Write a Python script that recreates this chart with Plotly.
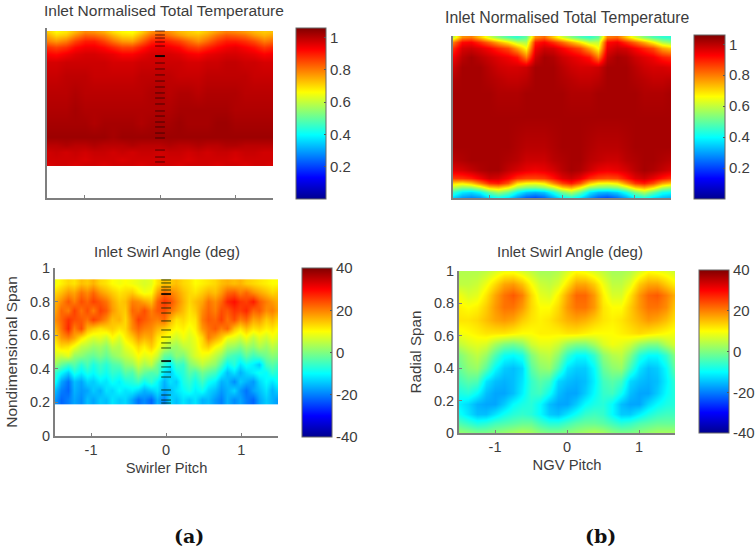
import plotly.graph_objects as go

W, H = 756, 552
JET = [[0, "#00008f"], [0.125, "#0000ff"], [0.375, "#00ffff"], [0.625, "#ffff00"], [0.875, "#ff0000"], [1, "#800000"]]
TEXT = "#3c3c3c"
AXIS = "#7f7f7f"
FONT = "Liberation Sans"

pitch_25 = [-1.5, -1.375, -1.25, -1.125, -1.0, -0.875, -0.75, -0.625, -0.5, -0.375, -0.25, -0.125, 0.0,
            0.125, 0.25, 0.375, 0.5, 0.625, 0.75, 0.875, 1.0, 1.125, 1.25, 1.375, 1.5]

# ---- (a) top: inlet normalised total temperature
temp_a_span = [0.2, 0.224, 0.27, 0.31, 0.36, 0.44, 0.52, 0.62, 0.72, 0.8, 0.85, 0.89, 0.925, 0.96, 0.975]
temp_a = [
    [.965, .975, .975, .965, .975, .975, .965, .975, .975, .975, .965, .975, .975, .975, .965, .975, .975, .975, .965, .975, .975, .965, .975, .975, .965],
    [.975, .975, .975, .975, .965, .975, .975, .975, .965, .975, .975, .975, .975, .975, .975, .965, .975, .975, .975, .975, .965, .975, .975, .975, .975],
    [.975, .985, .975, .985, .975, .985, .985, .975, .985, .975, .985, .985, .975, .985, .985, .975, .985, .975, .985, .985, .975, .985, .985, .975, .975],
    [1.0, 1.0, 1.01, 1.0, 1.0, 1.01, 1.0, 1.0, 1.0, 1.01, 1.0, 1.0, 1.0, 1.01, 1.0, 1.0, 1.01, 1.0, 1.0, 1.01, 1.01, 1.0, 1.0, 1.0, 1.0],
    [1.03, 1.03, 1.03, 1.03, 1.03, 1.03, 1.03, 1.02, 1.03, 1.03, 1.03, 1.03, 1.03, 1.03, 1.03, 1.03, 1.03, 1.03, 1.03, 1.03, 1.03, 1.03, 1.03, 1.03, 1.03],
    [1.02, 1.02, 1.02, 1.02, 1.02, 1.01, 1.02, 1.02, 1.02, 1.02, 1.01, 1.02, 1.02, 1.02, 1.03, 1.02, 1.02, 1.02, 1.03, 1.03, 1.02, 1.02, 1.02, 1.02, 1.02],
    [1.01, 1.01, 1.01, 1.02, 1.01, 1.01, 1.01, 1.01, 1.01, 1.01, 1.01, 1.01, 1.01, 1.01, 1.02, 1.02, 1.02, 1.02, 1.02, 1.02, 1.01, 1.01, 1.01, 1.01, 1.01],
    [1.0, 1.0, 1.0, 1.01, 1.0, 1.0, 1.0, 1.0, 1.0, 1.0, 1.0, 1.01, 1.01, 1.0, 1.01, 1.01, 1.0, 1.01, 1.01, 1.01, 1.01, 1.0, 1.0, 1.0, 1.0],
    [.985, .985, .995, .995, .995, .985, .985, .985, .985, .985, .995, .995, .995, .995, .985, .985, .985, .995, .995, .995, .995, .995, .985, .985, .985],
    [.97, .97, .98, .98, .98, .98, .98, .97, .97, .97, .98, .98, .98, .98, .98, .97, .97, .98, .98, .99, .99, .98, .98, .97, .97],
    [.93, .92, .94, .96, .97, .97, .96, .95, .93, .93, .95, .97, .97, .97, .96, .94, .93, .95, .96, .97, .97, .96, .95, .93, .94],
    [.88, .86, .88, .92, .94, .94, .92, .89, .86, .86, .9, .94, .95, .94, .92, .88, .86, .89, .92, .94, .95, .93, .91, .87, .89],
    [.8, .77, .8, .86, .9, .9, .86, .81, .77, .76, .82, .89, .91, .89, .86, .82, .78, .82, .87, .9, .9, .88, .85, .8, .82],
    [.75, .7, .72, .78, .83, .82, .79, .74, .7, .69, .75, .82, .84, .81, .77, .74, .73, .76, .81, .84, .83, .81, .77, .74, .76],
    [.72, .67, .69, .74, .79, .78, .75, .7, .67, .66, .71, .78, .81, .78, .74, .72, .7, .73, .77, .8, .79, .77, .74, .72, .73],
]
dash_temp = [.982, .959, .941, .918, .894, .794, .759, .724, .688, .653, .618, .588, .553, .512, .482, .447, .418, .382, .353, .282, .241, .212]
dash_temp_dark = [.835]

# ---- (b) top: inlet normalised total temperature
temp_b_span = [.004, .039, .066, .091, .121, .173, .235, .317, .5, .646, .728, .81, .872, .924, .965, .996]
temp_b = [
    [.36, .3, .28, .3, .38, .42, .38, .3, .24, .22, .25, .32, .4, .44, .38, .3, .24, .22, .26, .32, .4, .44, .38, .34, .32],
    [.45, .38, .36, .4, .5, .56, .5, .4, .34, .32, .34, .42, .52, .58, .5, .38, .33, .32, .35, .42, .52, .58, .5, .42, .4],
    [.6, .55, .56, .62, .72, .74, .68, .58, .54, .53, .56, .62, .72, .76, .68, .57, .54, .53, .55, .62, .72, .76, .7, .6, .56],
    [.7, .68, .72, .8, .88, .9, .84, .7, .66, .65, .68, .78, .86, .9, .84, .72, .66, .65, .68, .78, .87, .9, .85, .76, .72],
    [.87, .88, .9, .94, .98, .97, .93, .88, .86, .86, .87, .91, .96, .98, .95, .89, .86, .85, .86, .91, .96, .98, .95, .91, .88],
    [.96, .97, .99, 1.01, 1.02, 1.02, .99, .97, .95, .94, .95, .97, 1.0, 1.02, 1.01, .98, .95, .94, .95, .97, 1.0, 1.02, 1.01, .99, .97],
    [1.0, 1.01, 1.02, 1.02, 1.02, 1.02, 1.01, 1.0, .98, .98, .98, 1.0, 1.01, 1.02, 1.02, 1.0, .99, .98, .98, 1.0, 1.01, 1.02, 1.02, 1.01, 1.0],
    [1.02, 1.02, 1.02, 1.02, 1.02, 1.02, 1.02, 1.01, 1.0, 1.0, 1.0, 1.01, 1.02, 1.02, 1.02, 1.01, 1.0, 1.0, 1.0, 1.01, 1.02, 1.02, 1.02, 1.02, 1.02],
    [1.02, 1.02, 1.02, 1.02, 1.02, 1.02, 1.02, 1.02, 1.02, 1.02, 1.02, 1.02, 1.02, 1.02, 1.02, 1.02, 1.02, 1.02, 1.02, 1.02, 1.02, 1.02, 1.02, 1.02, 1.02],
    [1.02, 1.02, 1.02, 1.02, 1.02, 1.01, 1.01, 1.01, 1.02, 1.02, 1.02, 1.02, 1.02, 1.01, 1.01, 1.01, 1.02, 1.02, 1.02, 1.02, 1.02, 1.01, 1.01, 1.01, 1.02],
    [1.01, 1.02, 1.02, 1.02, 1.01, 1.0, .99, .99, 1.0, 1.02, 1.02, 1.02, 1.01, 1.0, .99, .99, 1.0, 1.02, 1.02, 1.02, 1.01, 1.0, .99, .99, 1.0],
    [.98, 1.02, 1.02, 1.02, 1.0, .98, .97, .97, .98, 1.02, 1.02, 1.02, 1.0, .98, .97, .97, .98, 1.02, 1.02, 1.02, 1.0, .98, .97, .97, .96],
    [.94, 1.0, 1.02, 1.0, .98, .96, .94, .91, .8, .98, 1.02, 1.01, .98, .96, .94, .91, .8, .99, 1.02, 1.01, .98, .96, .94, .9, .88],
    [.88, .97, .98, .96, .93, .89, .85, .76, .66, .94, .98, .97, .93, .89, .85, .76, .66, .95, .98, .97, .93, .89, .85, .76, .72],
    [.8, .92, .93, .88, .82, .75, .68, .6, .58, .9, .93, .88, .82, .75, .68, .6, .6, .92, .94, .88, .82, .75, .67, .58, .54],
    [.6, .78, .8, .72, .62, .54, .48, .45, .5, .78, .82, .72, .62, .54, .48, .45, .5, .8, .82, .72, .62, .54, .48, .45, .44],
]

# ---- (a) bottom: inlet swirl angle
pitch_36 = [-1.48, -1.395, -1.31, -1.225, -1.14, -1.055, -0.97, -0.885, -0.8, -0.715, -0.63, -0.545, -0.46, -0.375, -0.29, -0.205,
            -0.12, -0.035, 0.05, 0.135, 0.22, 0.305, 0.39, 0.475, 0.56, 0.645, 0.73, 0.815, 0.9, 0.985, 1.07, 1.155, 1.24, 1.325, 1.41, 1.495]
swirl_a_span = [.217, .27, .323, .376, .429, .482, .535, .588, .641, .694, .747, .8, .853, .906]
swirl_a = [
    [-18, -22, -20, -17, -19, -15, -17, -14, -15, -12, -14, -13, -17, -21, -19, -22, -16, -20, -13, -15, -12, -14, -12, -16, -15, -18, -20, -16, -19, -17, -20, -22, -17, -14, -16, -18],
    [-15, -20, -22, -16, -18, -17, -14, -16, -12, -13, -10, -12, -11, -13, -16, -14, -12, -17, -15, -12, -10, -8, -11, -9, -13, -15, -18, -16, -13, -18, -21, -17, -15, -12, -16, -13],
    [-9, -17, -21, -15, -17, -13, -14, -11, -12, -9, -11, -8, -7, -5, -9, -6, -10, -16, -12, -14, -8, -6, -9, -5, -9, -11, -16, -15, -19, -14, -16, -18, -13, -10, -12, -9],
    [-6, -10, -14, -8, -11, -8, -10, -7, -9, -6, -7, -3, -4, 1, -2, -4, -3, -12, -14, -9, -7, -3, -5, -1, -3, -5, -10, -15, -12, -16, -13, -11, -9, -10, -6, -8],
    [2, -2, -5, -3, -7, -4, -8, -5, -7, -4, -3, 1, 2, 6, 3, 5, -1, -7, -11, -5, -6, 0, 2, 5, 3, 1, -4, -10, -7, -12, -9, -11, -14, -5, -3, -5],
    [7, 6, 8, 2, 1, -1, -2, 0, -2, 1, 3, 5, 7, 10, 8, 9, 6, -2, -3, 1, 0, 4, 7, 9, 8, 5, 2, -3, -5, -6, -2, -5, -3, -1, 1, 0],
    [10, 13, 12, 9, 5, 4, 2, 3, 1, 5, 4, 8, 10, 13, 11, 14, 10, 6, 3, 2, 5, 6, 8, 12, 14, 10, 8, 3, 2, 0, 3, 1, 4, 2, 5, 3],
    [13, 18, 20, 17, 12, 9, 7, 8, 6, 10, 7, 11, 14, 18, 16, 17, 12, 10, 8, 6, 9, 7, 9, 13, 20, 17, 14, 9, 8, 6, 9, 5, 8, 6, 9, 7],
    [16, 21, 27, 20, 24, 16, 14, 12, 13, 14, 12, 13, 19, 22, 20, 19, 16, 14, 12, 10, 11, 9, 11, 18, 21, 23, 20, 22, 15, 12, 15, 12, 13, 11, 12, 10],
    [19, 22, 26, 24, 23, 21, 25, 22, 19, 15, 16, 13, 20, 25, 23, 21, 20, 22, 16, 12, 13, 11, 12, 20, 23, 22, 25, 21, 24, 20, 22, 17, 18, 14, 16, 13],
    [17, 22, 20, 25, 21, 24, 20, 25, 23, 18, 15, 14, 22, 21, 24, 20, 23, 24, 21, 18, 15, 12, 14, 19, 22, 20, 24, 23, 26, 25, 27, 22, 23, 19, 20, 17],
    [16, 19, 23, 20, 24, 22, 25, 23, 21, 17, 14, 15, 20, 19, 17, 15, 22, 26, 24, 20, 16, 13, 15, 17, 21, 19, 22, 27, 29, 26, 25, 28, 23, 20, 18, 16],
    [13, 15, 18, 17, 21, 19, 22, 18, 16, 14, 12, 13, 14, 11, 9, 10, 17, 22, 20, 18, 15, 13, 12, 14, 16, 15, 18, 22, 23, 20, 22, 19, 17, 15, 13, 14],
    [9, 11, 13, 12, 15, 14, 16, 13, 12, 10, 9, 10, 9, 8, 7, 8, 12, 15, 14, 15, 13, 12, 10, 11, 12, 13, 15, 16, 15, 16, 14, 13, 12, 11, 10, 10],
]
dash_swirl = [.929, .911, .887, .869, .792, .762, .732, .685, .631, .589, .554, .524, .411, .381, .351, .274, .244, .214, .196]
dash_swirl_dark = [.845, .446]

# ---- (b) bottom: inlet swirl angle
swirl_b_span = [0, .06, .12, .18, .25, .32, .4, .48, .55, .62, .7, .78, .85, .92, 1.0]
swirl_b = [
    [2, 1, 0, 0, 1, 2, 3, 4, 3, 1, 0, 0, 1, 2, 3, 4, 3, 1, 0, 0, 1, 2, 3, 3, 3],
    [-4, -6, -8, -7, -5, -4, -3, -2, -2, -5, -7, -7, -5, -3, -2, -2, -3, -5, -7, -6, -4, -3, -2, -2, -2],
    [-9, -12, -15, -15, -12, -9, -7, -6, -7, -10, -14, -15, -12, -9, -6, -5, -6, -10, -14, -14, -11, -8, -6, -5, -5],
    [-11, -13, -16, -17, -17, -14, -10, -8, -7, -10, -15, -17, -17, -14, -10, -8, -7, -10, -15, -17, -17, -13, -10, -8, -7],
    [-8, -7, -10, -15, -17, -17, -15, -11, -6, -5, -9, -15, -17, -17, -14, -10, -6, -5, -9, -15, -17, -17, -14, -10, -7],
    [-5, -3, -4, -12, -15, -16, -15, -12, -6, -3, -5, -13, -15, -16, -15, -11, -5, -3, -5, -13, -15, -16, -15, -11, -6],
    [-2, 1, 2, -3, -10, -14, -15, -13, -3, 1, 2, -4, -12, -14, -14, -10, -2, 1, 2, -5, -12, -15, -14, -10, -2],
    [0, 3, 5, 2, -4, -9, -10, -8, 0, 4, 5, 1, -6, -10, -10, -6, 1, 4, 5, 0, -7, -10, -10, -6, 1],
    [5, 7, 8, 7, 3, 0, -1, 1, 6, 8, 8, 6, 2, 0, 0, 3, 7, 9, 8, 6, 2, 0, 0, 4, 7],
    [9, 10, 11, 12, 12, 12, 11, 10, 10, 11, 11, 11, 12, 12, 11, 10, 10, 10, 11, 12, 13, 12, 11, 10, 9],
    [12, 12, 13, 15, 17, 18, 17, 14, 12, 11, 12, 14, 16, 17, 16, 14, 12, 11, 12, 14, 16, 18, 17, 15, 12],
    [11, 10, 11, 14, 18, 21, 21, 18, 13, 10, 10, 13, 18, 21, 21, 18, 12, 10, 10, 14, 18, 21, 21, 19, 14],
    [9, 7, 8, 12, 17, 21, 23, 20, 13, 8, 7, 11, 17, 22, 22, 18, 11, 7, 7, 12, 18, 22, 23, 20, 16],
    [5, 5, 6, 9, 13, 17, 18, 15, 10, 6, 5, 7, 12, 17, 17, 14, 9, 5, 5, 8, 14, 17, 17, 14, 11],
    [4, 4, 4, 5, 7, 9, 9, 7, 5, 3, 3, 4, 7, 10, 9, 7, 5, 3, 3, 4, 7, 10, 9, 8, 6],
]

temp_ticks = [0.2, 0.4, 0.6, 0.8, 1]
temp_labels = ["0.2", "0.4", "0.6", "0.8", "1"]
swirl_ticks = [-40, -20, 0, 20, 40]
swirl_labels = ["-40", "-20", "0", "20", "40"]
span_ticks = [0, 0.2, 0.4, 0.6, 0.8, 1]
span_labels = ["0", "0.2", "0.4", "0.6", "0.8", "1"]
pitch_ticks = [-1, 0, 1]
pitch_labels = ["-1", "0", "1"]

title_temp = "Inlet Normalised Total Temperature"
title_swirl = "Inlet Swirl Angle (deg)"


def fx(px):
    return px / W


def fy(py):
    return 1 - py / H


panels = [
    dict(ax="", box=(47, 273, 28, 198), cb=(296, 326, 28, 199), x=pitch_25, y=temp_a_span, z=temp_a, zr=(0.0, 1.06),
         ct=temp_ticks, cl=temp_labels, xr=(-1.5, 1.5), yr=(0, 1)),
    dict(ax="2", box=(453, 671, 36, 198), cb=(694, 725, 35, 199), x=pitch_25, y=temp_b_span, z=temp_b, zr=(0.0, 1.06),
         ct=temp_ticks, cl=temp_labels, xr=(-1.5, 1.5), yr=(0, 1)),
    dict(ax="3", box=(55, 278, 268, 436), cb=(302, 332, 268, 437), x=pitch_36, y=swirl_a_span, z=swirl_a, zr=(-40, 40),
         ct=swirl_ticks, cl=swirl_labels, xr=(-1.48, 1.49), yr=(0, 1)),
    dict(ax="4", box=(459, 675, 271, 433), cb=(699, 729, 270, 433), x=pitch_25, y=swirl_b_span, z=swirl_b, zr=(-40, 40),
         ct=swirl_ticks, cl=swirl_labels, xr=(-1.5, 1.5), yr=(0, 1)),
]

fig = go.Figure()
layout_axes = {}
for p in panels:
    l, r, t, b = p["box"]
    cl_, cr_, ct_, cb_ = p["cb"]
    fig.add_trace(go.Heatmap(
        x=p["x"], y=p["y"], z=p["z"], zmin=p["zr"][0], zmax=p["zr"][1], colorscale=JET, zsmooth="best",
        xaxis="x" + p["ax"], yaxis="y" + p["ax"], hoverinfo="skip",
        colorbar=dict(
            x=fx(cl_), xanchor="left", xpad=0, ypad=0, y=fy(cb_), yanchor="bottom",
            len=(cb_ - ct_) / H, lenmode="fraction", thickness=cr_ - cl_, thicknessmode="pixels",
            tickmode="array", tickvals=p["ct"], ticktext=p["cl"], ticks="inside", ticklen=2, tickcolor="#555555",
            tickfont=dict(family=FONT, size=15, color=TEXT), outlinecolor="#666666", outlinewidth=1,
        ),
    ))
    bottom = p["ax"] in ("3", "4")
    layout_axes["xaxis" + p["ax"]] = dict(
        domain=[fx(l), fx(r)], range=list(p["xr"]), anchor="y" + p["ax"], showgrid=False, zeroline=False,
        showline=True, linecolor=AXIS, linewidth=2, ticks="inside", ticklen=3, tickcolor=AXIS,
        tickmode="array", tickvals=pitch_ticks, ticktext=pitch_labels, showticklabels=bottom,
        tickfont=dict(family=FONT, size=14.5, color=TEXT),
    )
    layout_axes["yaxis" + p["ax"]] = dict(
        domain=[fy(b), fy(t)], range=list(p["yr"]), anchor="x" + p["ax"], showgrid=False, zeroline=False,
        showline=True, linecolor=AXIS, linewidth=2, ticks="inside" if bottom else "", ticklen=3, tickcolor=AXIS,
        tickmode="array", tickvals=span_ticks, ticktext=span_labels, showticklabels=bottom,
        tickfont=dict(family=FONT, size=14.5, color=TEXT),
    )

layout_axes["xaxis3"]["title"] = dict(text="Swirler Pitch", font=dict(family=FONT, size=14.7, color=TEXT), standoff=5)
layout_axes["xaxis4"]["title"] = dict(text="NGV Pitch", font=dict(family=FONT, size=14.8, color=TEXT), standoff=5)
layout_axes["yaxis3"]["title"] = dict(text="Nondimensional Span", font=dict(family=FONT, size=15.5, color=TEXT), standoff=9)
layout_axes["yaxis4"]["title"] = dict(text="Radial Span", font=dict(family=FONT, size=15.2, color=TEXT), standoff=9)

for ys, ax, colour, w in [
    (dash_temp, "", "rgba(40,0,0,0.5)", 1.5), (dash_temp_dark, "", "rgba(0,0,0,0.9)", 2),
    (dash_swirl, "3", "rgba(0,40,0,0.55)", 1.5), (dash_swirl_dark, "3", "rgba(0,0,0,0.85)", 2),
]:
    fig.add_trace(go.Scatter(
        x=[0] * len(ys), y=ys, mode="markers", xaxis="x" + ax, yaxis="y" + ax, showlegend=False, hoverinfo="skip",
        marker=dict(symbol="line-ew", size=7, line=dict(color=colour, width=w)),
    ))


def note(text, px, py, size, family=FONT, color=TEXT, bold=False):
    return dict(text=f"<b>{text}</b>" if bold else text, x=fx(px), y=fy(py), xref="paper", yref="paper",
                showarrow=False, xanchor="center", yanchor="middle",
                font=dict(family=family, size=size, color=color))


fig.update_layout(
    width=W, height=H, margin=dict(l=0, r=0, t=0, b=0, autoexpand=False), paper_bgcolor="white", plot_bgcolor="white",
    showlegend=False,
    annotations=[
        note(title_temp, 164, 11, 15.5),
        note(title_temp, 567, 17, 15.8),
        note(title_swirl, 167, 251, 15),
        note(title_swirl, 570, 251, 15),
        note("(a)", 189, 536, 19, "DejaVu Serif", "#111111", True),
        note("(b)", 600, 536, 19, "DejaVu Serif", "#111111", True),
    ],
    **layout_axes,
)

fig.write_html("out.html", config={"displayModeBar": False},
               post_script="document.body.style.margin='0';document.documentElement.style.overflow='hidden';")
